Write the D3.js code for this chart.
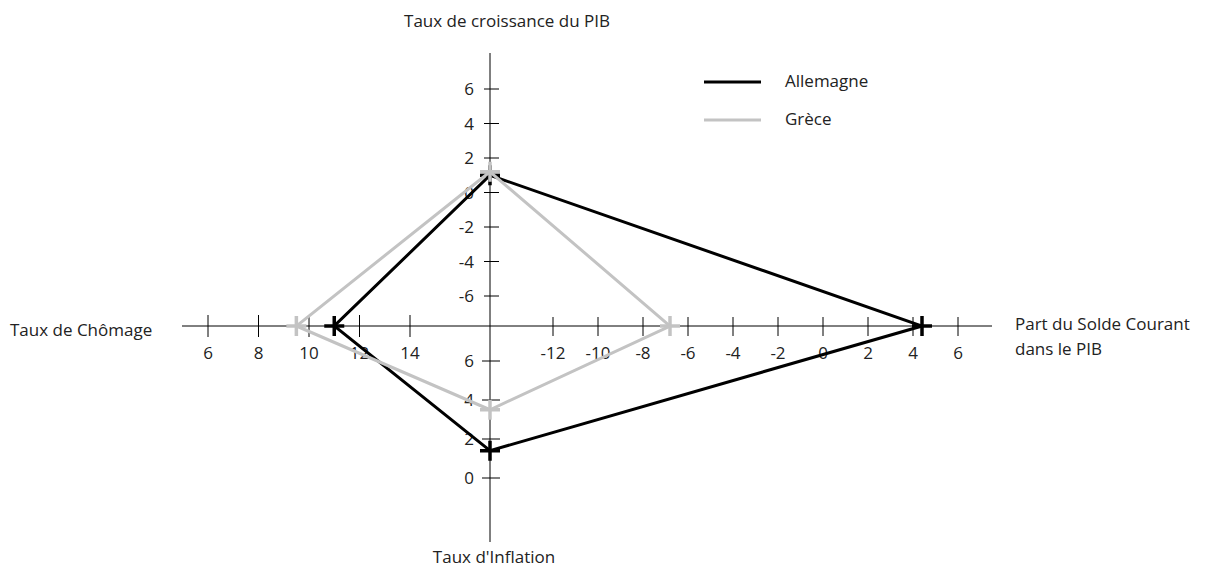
<!DOCTYPE html>
<html>
<head>
<meta charset="utf-8">
<script src="https://cdn.jsdelivr.net/npm/d3@7"></script>
<style>
  body { margin: 0; background: #fff; }
  svg text { font-family: "Open Sans", sans-serif; font-size: 17px; fill: #222; }
</style>
</head>
<body>
<div id="chart"></div>
<script>
// axis order: croissance (haut), solde courant (droite), inflation (bas), chomage (gauche)
const axisNames = ['croissance', 'solde', 'inflation', 'chomage'];
const growthTicks = [6, 4, 2, 0, -2, -4, -6];
const balanceTicks = [-12, -10, -8, -6, -4, -2, 0, 2, 4, 6];
const inflationTicks = [6, 4, 2, 0];
const unemploymentTicks = [6, 8, 10, 12, 14];

const seriesNames = ['Allemagne', 'Grèce'];
const allemagne = [1.0, 4.4, 1.4, 11.0];
const grece = [1.2, -6.8, 3.5, 9.5];

const W = 1209, H = 570;
const cx = 490, cy = 326;

const svg = d3.select('#chart').append('svg')
  .attr('width', W)
  .attr('height', H);

// scales (one per branch of the square)
const yGrowth = d3.scaleLinear().domain([6, -6]).range([89, 296]);
const xBalance = d3.scaleLinear().domain([-12, 6]).range([553, 958]);
const yInfl = d3.scaleLinear().domain([6, 0]).range([361, 478]);
const xUnemp = d3.scaleLinear().domain([6, 14]).range([208, 410]);

// axis lines
svg.append('line').attr('x1', cx).attr('x2', cx).attr('y1', 53).attr('y2', 542)
  .attr('stroke', '#000').attr('stroke-width', 1);
svg.append('line').attr('x1', 182).attr('x2', 992).attr('y1', cy).attr('y2', cy)
  .attr('stroke', '#000').attr('stroke-width', 1);

// vertical ticks (top)
const gTop = svg.append('g');
growthTicks.forEach(t => {
  gTop.append('line').attr('x1', cx - 6).attr('x2', cx + 9)
    .attr('y1', yGrowth(t)).attr('y2', yGrowth(t)).attr('stroke', '#000');
  gTop.append('text').attr('x', 474).attr('y', yGrowth(t) + 6)
    .attr('text-anchor', 'end').text(t);
});

// bottom ticks
const gBot = svg.append('g');
inflationTicks.forEach(t => {
  gBot.append('line').attr('x1', cx - 8).attr('x2', cx + 10)
    .attr('y1', yInfl(t)).attr('y2', yInfl(t)).attr('stroke', '#000');
  gBot.append('text').attr('x', 474).attr('y', yInfl(t) + 6)
    .attr('text-anchor', 'end').text(t);
});

// left ticks
const gLeft = svg.append('g');
unemploymentTicks.forEach(t => {
  gLeft.append('line').attr('x1', xUnemp(t)).attr('x2', xUnemp(t))
    .attr('y1', cy - 11).attr('y2', cy + 11).attr('stroke', '#000');
  gLeft.append('text').attr('x', xUnemp(t)).attr('y', 359)
    .attr('text-anchor', 'middle').text(t);
});

// right ticks
const gRight = svg.append('g');
balanceTicks.forEach(t => {
  gRight.append('line').attr('x1', xBalance(t)).attr('x2', xBalance(t))
    .attr('y1', cy - 9).attr('y2', cy + 10).attr('stroke', '#000');
  gRight.append('text').attr('x', xBalance(t)).attr('y', 359)
    .attr('text-anchor', 'middle').text(t);
});

// axis titles
svg.append('text').attr('x', 507).attr('y', 27).attr('text-anchor', 'middle')
  .text('Taux de croissance du PIB');
svg.append('text').attr('x', 10).attr('y', 336).text('Taux de Chômage');
svg.append('text').attr('x', 494).attr('y', 563).attr('text-anchor', 'middle')
  .text("Taux d'Inflation");
svg.append('text').attr('x', 1015).attr('y', 330).text('Part du Solde Courant');
svg.append('text').attr('x', 1015).attr('y', 355).text('dans le PIB');

// data -> points
function toPoints(vals) {
  return [
    [cx, yGrowth(vals[0])],
    [xBalance(vals[1]), cy],
    [cx, yInfl(vals[2])],
    [xUnemp(vals[3]), cy]
  ];
}

const series = [
  { name: seriesNames[0], vals: allemagne, color: '#000' },
  { name: seriesNames[1], vals: grece, color: '#c3c3c3' }
];

const line = d3.line().curve(d3.curveLinearClosed);

series.forEach(s => {
  const pts = toPoints(s.vals);
  svg.append('path')
    .attr('d', line(pts))
    .attr('fill', 'none')
    .attr('stroke', s.color)
    .attr('stroke-width', 3)
    .attr('stroke-linejoin', 'miter');
  svg.selectAll(null)
    .data(pts)
    .enter().append('path')
    .attr('transform', d => `translate(${d[0]},${d[1]})`)
    .attr('d', 'M-10,0H10M0,-10V10')
    .attr('stroke', s.color)
    .attr('stroke-width', 3.5);
});

// legend
const legend = svg.append('g');
series.forEach((s, i) => {
  const y = 82 + i * 38;
  legend.append('line').attr('x1', 704).attr('x2', 761).attr('y1', y).attr('y2', y)
    .attr('stroke', s.color).attr('stroke-width', 3);
  legend.append('text').attr('x', 785).attr('y', y + 5).text(s.name);
});
</script>
</body>
</html>
